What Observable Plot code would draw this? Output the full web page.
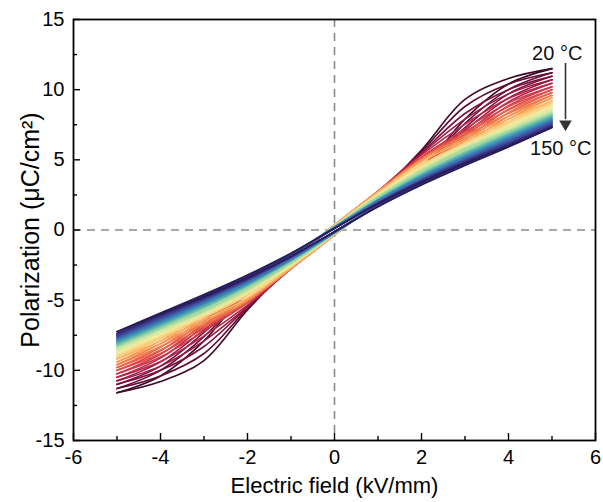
<!DOCTYPE html>
<html>
<head>
<meta charset="utf-8">
<script src="https://cdn.jsdelivr.net/npm/d3@7"></script>
<script src="https://cdn.jsdelivr.net/npm/@observablehq/plot@0.6"></script>
<style>
  html, body { margin: 0; padding: 0; background: #fff; }
  #chart svg { display: block; }
</style>
</head>
<body>
<div id="chart"></div>
<script>
// Electric field grid (kV/mm)
const fieldE = [-5, -4, -3, -2, -1, 0, 1, 2, 3, 4, 5];
// Temperatures (°C)
const temperatures = [20, 25, 30, 35, 40, 45, 50, 55, 60, 65, 70, 75, 80, 85, 90, 95, 100, 105, 110, 115, 120, 125, 130, 135, 140, 145, 150];
// Ascending branch polarization (µC/cm²), one row per temperature, values at fieldE
const upBranch = [
  [-11.6, -10.8, -9.3, -5.7, -2.6, -0.3, 2.0, 4.3, 7.9, 10.4, 11.5],
  [-11.3, -10.4, -8.8, -5.6, -2.65, -0.3, 2.05, 4.4, 7.6, 10.0, 11.2],
  [-11.0, -10.0, -8.3, -5.5, -2.7, -0.3, 2.1, 4.5, 7.3, 9.7, 10.95],
  [-10.75, -9.7, -7.9, -5.45, -2.75, -0.3, 2.15, 4.55, 7.1, 9.4, 10.7],
  [-10.5, -9.37, -7.55, -5.35, -2.75, -0.32, 2.15, 4.55, 6.85, 9.13, 10.45],
  [-10.25, -9.05, -7.2, -5.2, -2.75, -0.35, 2.15, 4.6, 6.7, 8.85, 10.2],
  [-10.0, -8.8, -7.0, -5.15, -2.75, -0.35, 2.15, 4.55, 6.5, 8.6, 10.0],
  [-9.8, -8.55, -6.85, -5.1, -2.75, -0.35, 2.15, 4.5, 6.35, 8.35, 9.8],
  [-9.6, -8.3, -6.7, -5.05, -2.75, -0.35, 2.15, 4.45, 6.2, 8.1, 9.6],
  [-9.4, -8.1, -6.55, -4.95, -2.7, -0.35, 2.1, 4.35, 6.05, 7.9, 9.4],
  [-9.2, -7.9, -6.4, -4.85, -2.7, -0.35, 2.1, 4.25, 5.9, 7.7, 9.2],
  [-9.05, -7.73, -6.23, -4.67, -2.6, -0.28, 2.1, 4.23, 5.87, 7.57, 9.05],
  [-8.9, -7.58, -6.13, -4.57, -2.55, -0.28, 2.05, 4.13, 5.77, 7.42, 8.9],
  [-8.75, -7.43, -6.03, -4.47, -2.5, -0.28, 2.0, 4.03, 5.67, 7.27, 8.75],
  [-8.6, -7.28, -5.93, -4.37, -2.45, -0.28, 1.95, 3.93, 5.57, 7.12, 8.6],
  [-8.45, -7.13, -5.83, -4.27, -2.4, -0.28, 1.9, 3.83, 5.47, 6.97, 8.45],
  [-8.3, -7.03, -5.73, -4.17, -2.35, -0.28, 1.85, 3.73, 5.37, 6.87, 8.3],
  [-8.2, -6.91, -5.57, -4.03, -2.23, -0.2, 1.87, 3.73, 5.33, 6.79, 8.2],
  [-8.1, -6.81, -5.47, -3.95, -2.18, -0.2, 1.82, 3.65, 5.23, 6.69, 8.1],
  [-8.0, -6.71, -5.37, -3.88, -2.15, -0.2, 1.79, 3.58, 5.13, 6.59, 8.0],
  [-7.9, -6.61, -5.27, -3.81, -2.12, -0.2, 1.76, 3.51, 5.03, 6.49, 7.9],
  [-7.8, -6.51, -5.19, -3.75, -2.09, -0.2, 1.73, 3.45, 4.95, 6.39, 7.8],
  [-7.7, -6.39, -5.07, -3.64, -1.99, -0.12, 1.77, 3.44, 4.91, 6.31, 7.7],
  [-7.6, -6.29, -4.99, -3.58, -1.96, -0.12, 1.74, 3.38, 4.83, 6.21, 7.6],
  [-7.5, -6.19, -4.91, -3.52, -1.93, -0.12, 1.71, 3.32, 4.75, 6.11, 7.5],
  [-7.4, -6.09, -4.83, -3.46, -1.9, -0.12, 1.68, 3.26, 4.67, 6.01, 7.4],
  [-7.25, -5.99, -4.75, -3.4, -1.87, -0.12, 1.65, 3.2, 4.59, 5.91, 7.3]
];
// Descending branch polarization (µC/cm²), values at fieldE
const downBranch = [
  [-11.6, -10.4, -7.9, -4.3, -2.0, 0.3, 2.6, 5.7, 9.3, 10.8, 11.5],
  [-11.3, -10.0, -7.6, -4.4, -2.05, 0.3, 2.65, 5.6, 8.8, 10.4, 11.2],
  [-11.0, -9.7, -7.3, -4.5, -2.1, 0.3, 2.7, 5.5, 8.3, 10.0, 10.95],
  [-10.75, -9.4, -7.1, -4.55, -2.15, 0.3, 2.75, 5.45, 7.9, 9.7, 10.7],
  [-10.5, -9.13, -6.85, -4.55, -2.15, 0.32, 2.75, 5.35, 7.55, 9.37, 10.45],
  [-10.25, -8.85, -6.7, -4.6, -2.15, 0.35, 2.75, 5.2, 7.2, 9.05, 10.2],
  [-10.0, -8.6, -6.5, -4.55, -2.15, 0.35, 2.75, 5.15, 7.0, 8.8, 10.0],
  [-9.8, -8.35, -6.35, -4.5, -2.15, 0.35, 2.75, 5.1, 6.85, 8.55, 9.8],
  [-9.6, -8.1, -6.2, -4.45, -2.15, 0.35, 2.75, 5.05, 6.7, 8.3, 9.6],
  [-9.4, -7.9, -6.05, -4.35, -2.1, 0.35, 2.7, 4.95, 6.55, 8.1, 9.4],
  [-9.2, -7.7, -5.9, -4.25, -2.1, 0.35, 2.7, 4.85, 6.4, 7.9, 9.2],
  [-9.05, -7.57, -5.87, -4.23, -2.1, 0.28, 2.6, 4.67, 6.23, 7.73, 9.05],
  [-8.9, -7.42, -5.77, -4.13, -2.05, 0.28, 2.55, 4.57, 6.13, 7.58, 8.9],
  [-8.75, -7.27, -5.67, -4.03, -2.0, 0.28, 2.5, 4.47, 6.03, 7.43, 8.75],
  [-8.6, -7.12, -5.57, -3.93, -1.95, 0.28, 2.45, 4.37, 5.93, 7.28, 8.6],
  [-8.45, -6.97, -5.47, -3.83, -1.9, 0.28, 2.4, 4.27, 5.83, 7.13, 8.45],
  [-8.3, -6.87, -5.37, -3.73, -1.85, 0.28, 2.35, 4.17, 5.73, 7.03, 8.3],
  [-8.2, -6.79, -5.33, -3.73, -1.87, 0.2, 2.23, 4.03, 5.57, 6.91, 8.2],
  [-8.1, -6.69, -5.23, -3.65, -1.82, 0.2, 2.18, 3.95, 5.47, 6.81, 8.1],
  [-8.0, -6.59, -5.13, -3.58, -1.79, 0.2, 2.15, 3.88, 5.37, 6.71, 8.0],
  [-7.9, -6.49, -5.03, -3.51, -1.76, 0.2, 2.12, 3.81, 5.27, 6.61, 7.9],
  [-7.8, -6.39, -4.95, -3.45, -1.73, 0.2, 2.09, 3.75, 5.19, 6.51, 7.8],
  [-7.7, -6.31, -4.91, -3.44, -1.77, 0.12, 1.99, 3.64, 5.07, 6.39, 7.7],
  [-7.6, -6.21, -4.83, -3.38, -1.74, 0.12, 1.96, 3.58, 4.99, 6.29, 7.6],
  [-7.5, -6.11, -4.75, -3.32, -1.71, 0.12, 1.93, 3.52, 4.91, 6.19, 7.5],
  [-7.4, -6.01, -4.67, -3.26, -1.68, 0.12, 1.9, 3.46, 4.83, 6.09, 7.4],
  [-7.25, -5.91, -4.59, -3.2, -1.65, 0.12, 1.87, 3.4, 4.75, 5.99, 7.3]
];
// Axis ticks
const xMajorTicks = [-6, -4, -2, 0, 2, 4, 6];
const xMinorTicks = [-5, -3, -1, 1, 3, 5];
const yMajorTicks = [-15, -10, -5, 0, 5, 10, 15];
const yMinorTicks = [-12.5, -7.5, -2.5, 2.5, 7.5, 12.5];
// Annotation
const tempLabels = [
  {text: "20 °C", E: 5.12, P: 12.55},
  {text: "150 °C", E: 5.2, P: 5.8}
];
const tempArrow = [{E: 5.31, Pstart: 11.9, Pend: 7.9, Phead: 7.55}];

// Colormap stops (cold → hot)
const colorStops = ["#3f0a2a", "#7a0d3c", "#b01f48", "#d9414a", "#ef6a45", "#f7a157", "#fbd07a", "#eeeb9f", "#c4e6a0", "#87cda4", "#50aeae", "#3885bb", "#405aa6", "#3d3889", "#281c58"];
const interp = d3.piecewise(d3.interpolateRgb, colorStops);
const colorOf = new Map(temperatures.map((t, i) => [t, interp(i / (temperatures.length - 1))]));

const rows = [];
temperatures.forEach((t, i) => {
  fieldE.forEach((e, j) => rows.push({T: t, branch: "up", E: e, P: upBranch[i][j]}));
  fieldE.forEach((e, j) => rows.push({T: t, branch: "down", E: e, P: downBranch[i][j]}));
});

const W = 603, H = 502;
const mL = 73, mR = 8, mT = 19, mB = 62;
const frameW = W - mL - mR, frameH = H - mT - mB;

const chart = Plot.plot({
  width: W,
  height: H,
  marginLeft: mL,
  marginRight: mR,
  marginTop: mT,
  marginBottom: mB,
  style: {fontFamily: "Arial, 'Liberation Sans', sans-serif", fontSize: "20px", color: "#000", background: "#fff"},
  x: {domain: [-6, 6]},
  y: {domain: [-15, 15]},
  marks: [
    Plot.ruleX([0], {stroke: "#8a8a8a", strokeWidth: 1.6, strokeDasharray: "8,6"}),
    Plot.ruleY([0], {stroke: "#8a8a8a", strokeWidth: 1.6, strokeDasharray: "8,6"}),
    Plot.line(rows, {
      x: "E", y: "P",
      z: d => d.T + "-" + d.branch,
      stroke: d => colorOf.get(d.T),
      strokeWidth: 1.6,
      curve: "catmull-rom"
    }),
    // inward ticks
    Plot.tickX(xMajorTicks, {x: d => d, insetTop: frameH - 7, stroke: "#000", strokeWidth: 1.4}),
    Plot.tickX(xMinorTicks, {x: d => d, insetTop: frameH - 4, stroke: "#000", strokeWidth: 1.4}),
    Plot.tickY(yMajorTicks, {y: d => d, insetRight: frameW - 7, stroke: "#000", strokeWidth: 1.4}),
    Plot.tickY(yMinorTicks, {y: d => d, insetRight: frameW - 4, stroke: "#000", strokeWidth: 1.4}),
    Plot.axisX({ticks: xMajorTicks, tickSize: 0, tickPadding: 9, tickFormat: d => String(d), label: null, fontSize: 20}),
    Plot.axisY({ticks: yMajorTicks, tickSize: 0, tickPadding: 9, tickFormat: d => String(d), label: null, fontSize: 20}),
    Plot.text(["Electric field (kV/mm)"], {frameAnchor: "bottom", dy: 52, fontSize: 22, fill: "#000"}),
    Plot.text(["Polarization (μC/cm²)"], {frameAnchor: "left", textAnchor: "middle", dx: -43, rotate: -90, fontSize: 25, fill: "#000"}),
    Plot.frame({stroke: "#000", strokeWidth: 1.8}),
    Plot.text(tempLabels, {x: "E", y: "P", text: "text", fontSize: 20, fill: "#111"}),
    Plot.link(tempArrow, {x1: "E", y1: "Pstart", x2: "E", y2: "Pend", stroke: "#333", strokeWidth: 1.6}),
    Plot.dot(tempArrow, {x: "E", y: "Phead", symbol: "triangle2", r: 6, rotate: 180, fill: "#333", stroke: "none"})
  ]
});
document.getElementById("chart").appendChild(chart);
</script>
</body>
</html>
